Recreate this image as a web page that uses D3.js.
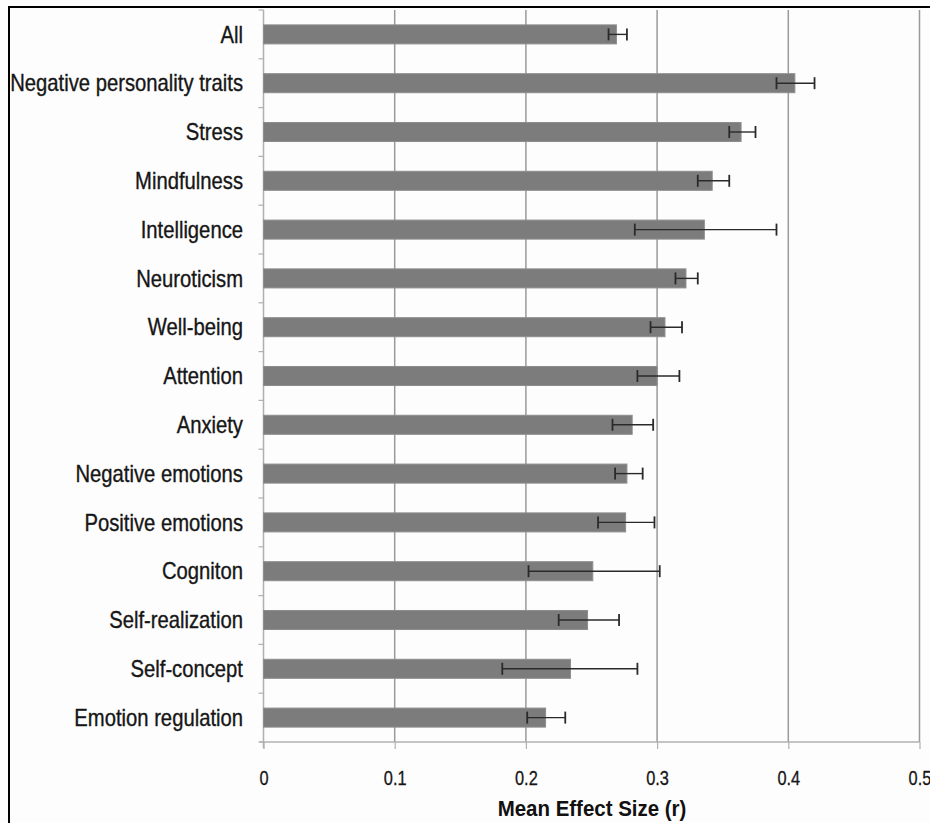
<!DOCTYPE html>
<html>
<head>
<meta charset="utf-8">
<script src="https://cdn.jsdelivr.net/npm/d3@7/dist/d3.min.js"></script>
<style>
  html, body { margin: 0; padding: 0; background: #fff; }
  svg { display: block; }
  .lbl { font-family: "Liberation Sans", Arial, sans-serif; }
</style>
</head>
<body>
<div id="chart"></div>
<script>
const categories = ["All", "Negative personality traits", "Stress", "Mindfulness", "Intelligence",
  "Neuroticism", "Well-being", "Attention", "Anxiety", "Negative emotions", "Positive emotions",
  "Cogniton", "Self-realization", "Self-concept", "Emotion regulation"];
const meanValues = [0.269, 0.405, 0.364, 0.342, 0.336, 0.322, 0.306, 0.300, 0.281, 0.277, 0.276,
  0.251, 0.247, 0.234, 0.215];
const errorLow = [0.263, 0.391, 0.355, 0.331, 0.283, 0.314, 0.295, 0.285, 0.266, 0.268, 0.255,
  0.202, 0.225, 0.182, 0.201];
const errorHigh = [0.277, 0.420, 0.375, 0.355, 0.391, 0.331, 0.319, 0.317, 0.297, 0.289, 0.298,
  0.302, 0.271, 0.285, 0.230];
const xTicks = [0, 0.1, 0.2, 0.3, 0.4, 0.5];
const xTickLabels = ["0", "0.1", "0.2", "0.3", "0.4", "0.5"];
const xTitle = "Mean Effect Size (r)";

(function () {
const W = 930, H = 823;
const pLeft = 263.5, pRight = 919.5, pTop = 10, pBottom = 742;
const narrow = 0.88;

const svg = d3.select("#chart").append("svg").attr("width", W).attr("height", H);
svg.append("rect").attr("width", W).attr("height", H).attr("fill", "#fdfdfd");

// frame
svg.append("path").attr("d", `M9,${H + 5} L9,7 L${W + 5},7`)
  .attr("fill", "none").attr("stroke", "#000").attr("stroke-width", 2);

const x = d3.scaleLinear().domain([0, 0.5]).range([pLeft, pRight]);
const y = d3.scaleBand().domain(categories).range([pTop, pBottom]).paddingInner(0.61).paddingOuter(0.305);

// gridlines
svg.append("g").selectAll("line").data(xTicks.slice(1)).join("line")
  .attr("x1", d => x(d)).attr("x2", d => x(d))
  .attr("y1", pTop).attr("y2", pBottom)
  .attr("stroke", "#9a9a9a").attr("stroke-width", 1.5);

// y axis line with ticks between categories
const yAxisG = svg.append("g");
yAxisG.append("line").attr("x1", pLeft).attr("x2", pLeft).attr("y1", pTop).attr("y2", pBottom + 6)
  .attr("stroke", "#b0b0b0").attr("stroke-width", 1.5);
const step = y.step();
yAxisG.selectAll("line.t").data(d3.range(categories.length + 1)).join("line").attr("class", "t")
  .attr("x1", pLeft - 5).attr("x2", pLeft)
  .attr("y1", i => pTop + i * step).attr("y2", i => pTop + i * step)
  .attr("stroke", "#b0b0b0").attr("stroke-width", 1.2);

// category labels
svg.append("g").selectAll("text").data(categories).join("text")
  .attr("class", "lbl")
  .attr("transform", d => `translate(243,${y(d) + y.bandwidth() / 2}) scale(${narrow},1)`)
  .attr("dy", "0.36em").attr("text-anchor", "end")
  .attr("font-size", 23).attr("fill", "#161616")
  .attr("stroke", "#161616").attr("stroke-width", 0.35)
  .text(d => d);

// x axis
const xAxis = d3.axisBottom(x).tickValues(xTicks).tickFormat((d, i) => xTickLabels[i]).tickSize(7).tickPadding(22);
const xg = svg.append("g").attr("transform", `translate(0,${pBottom})`).call(xAxis);
xg.select(".domain").attr("stroke", "#b0b0b0").attr("stroke-width", 1.5).attr("d", `M${pLeft - 4},0H${pRight}`);
xg.selectAll(".tick line").attr("stroke", "#b0b0b0").attr("stroke-width", 1.2);
xg.selectAll(".tick text").attr("class", "lbl").attr("font-size", 20).attr("fill", "#161616")
  .attr("stroke", "#161616").attr("stroke-width", 0.3)
  .attr("transform", `scale(0.82,1)`);

// bars
svg.append("g").selectAll("rect").data(categories).join("rect")
  .attr("x", x(0)).attr("y", d => y(d))
  .attr("width", (d, i) => x(meanValues[i]) - x(0))
  .attr("height", y.bandwidth())
  .attr("fill", "#7c7c7c").attr("stroke", "#8e8e8e").attr("stroke-width", 1);

// error bars
const eg = svg.append("g").attr("stroke", "#2a2a2a");
categories.forEach((c, i) => {
  const cy = y(c) + y.bandwidth() / 2;
  eg.append("line").attr("x1", x(errorLow[i])).attr("x2", x(errorHigh[i])).attr("y1", cy).attr("y2", cy).attr("stroke-width", 1.4);
  [errorLow[i], errorHigh[i]].forEach(v => {
    eg.append("line").attr("x1", x(v)).attr("x2", x(v)).attr("y1", cy - 6).attr("y2", cy + 6).attr("stroke-width", 1.8);
  });
});

// axis title
svg.append("text").attr("class", "lbl")
  .attr("transform", `translate(592,816) scale(0.93,1)`).attr("text-anchor", "middle")
  .attr("font-size", 22).attr("font-weight", "bold").attr("fill", "#111")
  .text(xTitle);
})();
</script>
</body>
</html>
